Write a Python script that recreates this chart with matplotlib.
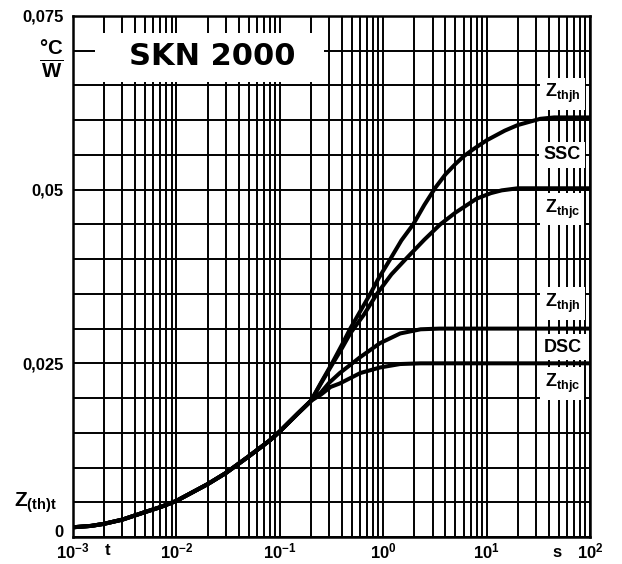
import matplotlib
matplotlib.use("Agg")
from matplotlib import pyplot as plt
from matplotlib.ticker import LogLocator, MultipleLocator, NullFormatter
from matplotlib.patches import Rectangle

plt.rcParams['font.family'] = 'Liberation Sans'
plt.rcParams['font.weight'] = 'bold'
plt.rcParams['mathtext.fontset'] = 'custom'
plt.rcParams['mathtext.rm'] = 'Liberation Sans:bold'
plt.rcParams['mathtext.bf'] = 'Liberation Sans:bold'
plt.rcParams['mathtext.it'] = 'Liberation Sans:bold'

# shared start of all curves (t in s, Z in degC/W)
t_common = [0.001, 0.0015, 0.002, 0.003, 0.005, 0.007, 0.01, 0.02, 0.03, 0.05, 0.08, 0.1, 0.15]
z_common = [0.0014, 0.0016, 0.0019, 0.0025, 0.0036, 0.0043, 0.0052, 0.0076, 0.0092, 0.0116, 0.0139, 0.0152, 0.0178]

# single side cooling
t_ssc_jh = [0.2, 0.25, 0.32, 0.4, 0.48, 0.6, 0.75, 0.9, 1.17, 1.5, 1.95, 2.5, 3.2, 4, 5, 6, 7.4, 10, 15, 20, 33, 45, 100]
z_ssc_jh = [0.0196, 0.0222, 0.025, 0.0277, 0.030, 0.0325, 0.035, 0.0372, 0.040, 0.0427, 0.045, 0.0478,
            0.0503, 0.0522, 0.0537, 0.0548, 0.0558, 0.0571, 0.0585, 0.0593, 0.0602, 0.0604, 0.0604]
t_ssc_jc = [0.2, 0.25, 0.32, 0.4, 0.48, 0.65, 0.87, 1.2, 1.65, 2.5, 3.56, 5, 8, 11, 14, 20, 100]
z_ssc_jc = [0.0196, 0.0221, 0.0248, 0.0272, 0.0293, 0.032, 0.035, 0.0378, 0.040, 0.0428, 0.045, 0.0467,
            0.0487, 0.0495, 0.0499, 0.0502, 0.0502]

# double side cooling
t_dsc_jh = [0.2, 0.25, 0.3, 0.38, 0.6, 0.93, 1.46, 2.3, 3.5, 100]
z_dsc_jh = [0.0196, 0.0208, 0.0222, 0.0236, 0.0259, 0.0279, 0.0293, 0.0299, 0.030, 0.030]
t_dsc_jc = [0.2, 0.25, 0.31, 0.38, 0.6, 0.93, 1.46, 2.3, 100]
z_dsc_jc = [0.0196, 0.0205, 0.0216, 0.0221, 0.0236, 0.0244, 0.0249, 0.025, 0.025]

xticks = [1e-3, 1e-2, 1e-1, 1e0, 1e1, 1e2]
xlabels = ['10$^{-3}$', '10$^{-2}$', '10$^{-1}$', '10$^{0}$', '10$^{1}$', '10$^{2}$']
yticks = [0, 0.025, 0.05, 0.075]
ylabels = ['0', '0,025', '0,05', '0,075']

# label text, y position of right side labels
lab_text = [r'Z$_{thjh}$', 'SSC', r'Z$_{thjc}$', r'Z$_{thjh}$', 'DSC', r'Z$_{thjc}$']
lab_y = [0.0638, 0.055, 0.0472, 0.0336, 0.0273, 0.0221]

fig = plt.figure(figsize=(6.22, 5.64), dpi=100)
ax = fig.add_axes([73/622, 27/564, 517/622, 521/564])

for t, z in [(t_ssc_jh, z_ssc_jh), (t_ssc_jc, z_ssc_jc), (t_dsc_jh, z_dsc_jh), (t_dsc_jc, z_dsc_jc)]:
    ax.plot(t_common + t, z_common + z, color='black', lw=2.9, solid_capstyle='butt',
            solid_joinstyle='round', zorder=4)

ax.set_xscale('log')
ax.set_xlim(1e-3, 1e2)
ax.set_ylim(0, 0.075)
ax.set_xticks(xticks, labels=xlabels)
ax.xaxis.set_minor_locator(LogLocator(base=10, subs=range(2, 10)))
ax.xaxis.set_minor_formatter(NullFormatter())
ax.set_yticks(yticks, labels=ylabels)
ax.yaxis.set_minor_locator(MultipleLocator(0.005))
ax.tick_params(which='both', length=0, labelsize=12)
ax.tick_params(axis='x', pad=3)
ax.tick_params(axis='y', pad=7)
ax.grid(which='both', color='black', lw=1.4)
for sp in ax.spines.values():
    sp.set_linewidth(1.8)
    sp.set_zorder(6)
# the "0" sits a little higher so it clears the 10^-3 label
ax.yaxis.get_major_ticks()[0].label1.set_verticalalignment('baseline')

# title box
ax.add_patch(Rectangle((1.63e-3, 0.0655), 0.27 - 1.63e-3, 0.0070, facecolor='white',
                       edgecolor='none', zorder=3))
ax.text(0.0221, 0.0691, 'SKN 2000', fontsize=22, fontweight='bold', family='DejaVu Sans',
        ha='center', va='center', zorder=5)

for txt, y in zip(lab_text, lab_y):
    ax.text(54, y, txt, fontsize=13, ha='center', va='center', zorder=5,
            bbox=dict(boxstyle='square,pad=0.25', facecolor='white', edgecolor='none'))

ax.text(-0.042, 0.918, r'$\frac{°C}{W}$', transform=ax.transAxes, fontsize=21, ha='center', va='center')
ax.text(-0.072, 0.066, r'Z$_{(th)t}$', transform=ax.transAxes, fontsize=15, ha='center', va='center')
ax.text(0.066, -0.025, 't', transform=ax.transAxes, fontsize=12, ha='center', va='center')
ax.text(0.936, -0.029, 's', transform=ax.transAxes, fontsize=12, ha='center', va='center')

plt.savefig('out.png', dpi=100)
